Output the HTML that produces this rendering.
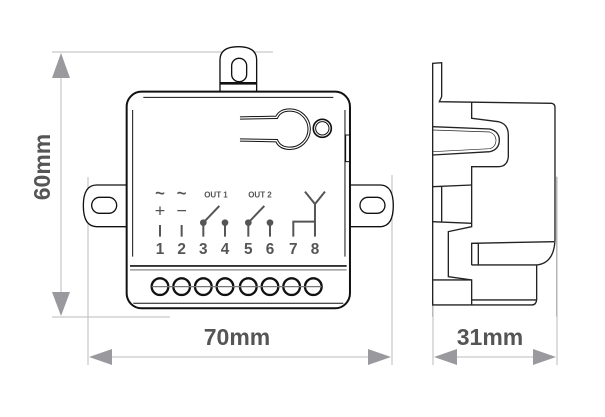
<!DOCTYPE html>
<html><head><meta charset="utf-8"><style>
html,body{margin:0;padding:0;background:#fff;width:605px;height:417px;overflow:hidden}
svg{display:block}
</style></head><body>
<svg width="605" height="417" viewBox="0 0 605 417" xmlns="http://www.w3.org/2000/svg">
<g stroke="#bbb" stroke-width="1" fill="none">
<line x1="52" y1="52" x2="273" y2="52"/>
<line x1="52" y1="317" x2="170" y2="317"/>
<line x1="88" y1="177" x2="88" y2="365"/>
<line x1="392" y1="175" x2="392" y2="365"/>
<line x1="433" y1="300" x2="433" y2="365"/>
<line x1="557" y1="177" x2="557" y2="365"/>
<line x1="61" y1="60" x2="61" y2="310"/>
<line x1="96" y1="357" x2="384" y2="357"/>
<line x1="441" y1="357" x2="549" y2="357"/>
</g>
<g fill="#9a9a9e">
<polygon points="61,53 52,78 70,78"/>
<polygon points="61,316 52,292 70,292"/>
<polygon points="89,357 112,349 112,365"/>
<polygon points="391,357 368,349 368,365"/>
<polygon points="434,357 457,349 457,365"/>
<polygon points="556,357 533,349 533,365"/>
</g>
<g font-family="Liberation Sans, sans-serif" font-weight="bold" fill="#555" font-size="23">
<text x="237" y="345" text-anchor="middle">70mm</text>
<text x="490" y="345" text-anchor="middle">31mm</text>
<text transform="translate(50,167) rotate(-90)" text-anchor="middle">60mm</text>
</g>

<g transform="translate(80,40) scale(0.3333)" stroke="#111" fill="none" stroke-width="4">
<path d="M420,155 L420,60 Q420,20 475,20 Q530,20 530,60 L530,155" fill="#fff"/>
<line x1="420" y1="130" x2="530" y2="130" stroke-width="8"/>
<rect x="455" y="55" width="45" height="70" rx="22"/>
<path d="M140,435 L50,435 Q10,435 10,497 Q10,560 50,560 L140,560" fill="#fff"/>
<rect x="35" y="472" width="75" height="48" rx="24"/>
<path d="M810,435 L900,435 Q940,435 940,497 Q940,560 900,560 L810,560" fill="#fff"/>
<rect x="840" y="472" width="75" height="48" rx="24"/>
<rect x="140" y="155" width="670" height="650" rx="45" fill="#fff" stroke-width="6"/>
<path d="M190,172 L760,172" stroke-width="3"/>
<path d="M158,210 L158,650" stroke-width="3"/>
<path d="M795,210 L795,650" stroke-width="3"/>
<path d="M150,678 L800,678" stroke-width="5"/>
<path d="M150,690 L800,690" stroke-width="2"/>
<path d="M160,790 L790,790" stroke-width="3"/>
<rect x="797" y="285" width="12" height="80" stroke-width="3"/>
<path d="M480,234 L590,232 Q600,210 630,210 A57,57 0 1 1 630,325 Q600,325 590,302 L480,300" stroke-width="10"/>
<path d="M480,234 L590,232 Q600,210 630,210 A57,57 0 1 1 630,325 Q600,325 590,302 L480,300" stroke="#fff" stroke-width="4"/>
<circle cx="727" cy="265" r="27" stroke-width="5"/>
<circle cx="727" cy="265" r="20" stroke-width="3"/>
<g stroke-width="7">
<circle cx="240" cy="740" r="25"/><circle cx="305" cy="740" r="25"/>
<circle cx="370" cy="740" r="25"/><circle cx="435" cy="740" r="25"/>
<circle cx="505" cy="740" r="25"/><circle cx="570" cy="740" r="25"/>
<circle cx="635" cy="740" r="25"/><circle cx="700" cy="740" r="25"/>
<line x1="215" y1="740" x2="725" y2="740" stroke-width="4" stroke="#777"/>
</g>
<g stroke="#555" stroke-width="6">
<line x1="240" y1="555" x2="240" y2="590"/>
<line x1="305" y1="555" x2="305" y2="590"/>
<line x1="370" y1="548" x2="370" y2="590"/>
<line x1="370" y1="548" x2="418" y2="498"/>
<line x1="435" y1="548" x2="435" y2="590"/>
<line x1="505" y1="548" x2="505" y2="590"/>
<line x1="505" y1="548" x2="553" y2="498"/>
<line x1="570" y1="548" x2="570" y2="590"/>
<path d="M640,590 L640,545 L705,545"/>
<path d="M705,590 L705,490 M675,455 L705,492 L735,455"/>
</g>
<g fill="#555" stroke="none">
<circle cx="370" cy="548" r="10"/><circle cx="435" cy="548" r="10"/>
<circle cx="505" cy="548" r="10"/><circle cx="570" cy="548" r="10"/>
</g>
<g font-family="Liberation Sans, sans-serif" font-weight="bold" fill="#555" stroke="none" text-anchor="middle">
<text x="240" y="475" font-size="50">~</text>
<text x="305" y="475" font-size="50">~</text>
<text x="240" y="530" font-size="54" font-weight="normal">+</text>
<text x="305" y="530" font-size="54" font-weight="normal">−</text>
<text x="408" y="473" font-size="24">OUT 1</text>
<text x="540" y="473" font-size="24">OUT 2</text>
<g font-size="46">
<text x="240" y="642">1</text><text x="305" y="642">2</text>
<text x="370" y="642">3</text><text x="435" y="642">4</text>
<text x="505" y="642">5</text><text x="570" y="642">6</text>
<text x="640" y="642">7</text><text x="705" y="642">8</text>
</g>
</g>
</g>

<g transform="translate(410,50) scale(0.3333)" stroke="#222" fill="none" stroke-width="4">
<line x1="440" y1="380" x2="440" y2="800" stroke="#aaa" stroke-width="3"/>
<line x1="68" y1="765" x2="68" y2="800" stroke="#aaa" stroke-width="3"/>
<path d="M68,765 L68,40 L95,38 L95,140 L88,155 L425,160 Q435,162 435,172 L435,570 Q432,640 380,645 L380,750 Q378,765 365,765 Z"/>
<path d="M185,155 L185,205 L265,215 Q295,222 295,255 L295,320 Q292,350 265,350 L185,350 L185,530 L115,545 L115,680 L185,690 L185,765"/>
<path d="M68,230 L240,237 Q268,245 268,270 Q268,298 240,305 L68,315"/>
<path d="M68,240 L240,246 Q258,255 258,270 Q258,290 240,296 L68,305" stroke-width="2"/>
<path d="M68,410 L185,405 M68,515 L185,520 M68,690 L185,690 M95,410 L95,515 M185,750 L380,750"/>
<path d="M185,645 L185,580 L432,575 M185,645 L380,645 M205,580 L205,645"/>
</g>
</svg>
</body></html>
